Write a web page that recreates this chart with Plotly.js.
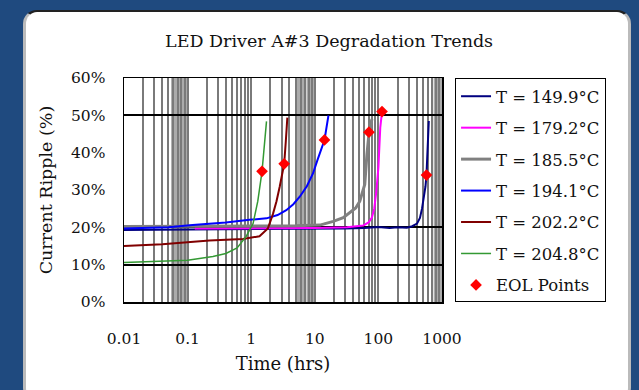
<!DOCTYPE html>
<html>
<head>
<meta charset="utf-8">
<script src="https://cdn.plot.ly/plotly-3.0.1.min.js"></script>
<style>
  html, body { margin:0; padding:0; width:639px; height:390px; overflow:hidden; background:#1f4a7f; }
  #panel { position:absolute; left:23px; top:10px; width:608px; height:392px; background:#fff;
           border-radius:14px; border-left:3px solid #bbb; border-right:3px solid #bbb; border-top:2px solid #222; box-sizing:border-box; }
  #chart { position:absolute; left:0; top:0; width:639px; height:390px; }
</style>
</head>
<body>
<div id="panel"></div>
<div id="chart"></div>
<script>
// ---- Data (time in hours, ripple in %) ----
const seriesNames = ["T = 149.9°C", "T = 179.2°C", "T = 185.5°C", "T = 194.1°C", "T = 202.2°C", "T = 204.8°C"];
const seriesColors = ["#000080", "#ff00ff", "#808080", "#0000ff", "#800000", "#339933"];
const seriesWidths = [2, 2, 3, 2, 2, 1.5];

const t149 = [0.01, 0.1, 1, 10, 30, 60, 100, 150, 200, 280, 340, 405, 450, 485, 520, 550, 570, 600, 620];
const r149 = [19.3, 19.4, 19.5, 19.5, 19.7, 19.8, 20.1, 19.8, 20.0, 19.9, 20.3, 21.0, 22.5, 25.0, 28.0, 31.0, 34.0, 42.0, 48.5];

const t179 = [0.13, 1, 10, 32, 58, 70, 79, 86, 92, 100, 107, 114];
const r179 = [19.7, 19.7, 19.8, 20.0, 20.5, 21.3, 22.6, 25.0, 29.0, 36.0, 46.7, 51.0];

const t185 = [0.01, 1, 5, 12, 19.5, 28, 35, 44, 51, 61, 66, 71, 79];
const r185 = [20.2, 20.3, 20.4, 20.6, 21.6, 22.6, 23.8, 25.2, 27.0, 31.5, 39.5, 45.0, 49.0];

const t194 = [0.01, 0.05, 0.12, 0.4, 0.94, 1.74, 2.6, 3.56, 4.6, 5.8, 7.5, 9.4, 11, 12.8, 14.2, 16.4];
const r194 = [19.7, 20.0, 20.6, 21.3, 22.0, 22.4, 23.3, 24.6, 26.2, 28.2, 31.0, 34.5, 38.0, 41.6, 43.4, 50.0];

const t202 = [0.01, 0.04, 0.22, 0.74, 1.35, 1.83, 2.2, 2.5, 2.8, 3.3, 3.5, 3.7];
const r202 = [15.0, 15.5, 16.5, 16.9, 17.6, 19.7, 23.6, 27.0, 30.8, 37.0, 43.0, 49.4];

const t204 = [0.01, 0.03, 0.1, 0.25, 0.4, 0.6, 0.83, 1.07, 1.27, 1.48, 1.6, 1.74];
const r204 = [10.6, 10.8, 11.2, 12.2, 13.0, 14.5, 17.5, 21.0, 27.0, 35.0, 42.0, 48.4];

const eolTime = [570, 114, 71, 14.2, 3.3, 1.48];
const eolRipple = [34.0, 51.0, 45.5, 43.4, 37.0, 35.0];

const xTickVals = [0.01, 0.1, 1, 10, 100, 1000];
const xTickText = ["0.01", "0.1", "1", "10", "100", "1000"];
const yTickVals = [0, 10, 20, 30, 40, 50, 60];
const yTickText = ["0%", "10%", "20%", "30%", "40%", "50%", "60%"];
const yGridVals = [10, 20, 50];
// vertical log gridlines (1..9 per decade)
const gridDecades = [0.01, 0.1, 1, 10, 100];
const gridDigits = [1, 2, 3, 4, 5, 6, 7, 8, 9];
// darker shaded bands of merged gridlines seen in the picture (start, end in hours)
const bandStart = [0.055, 4.9, 7.4, 740];
const bandEnd = [0.1, 6.9, 10, 1000];

// main x axis: ticks at every gridline, labelled only at decades
const xGridVals = [];
gridDecades.forEach(d => gridDigits.forEach(k => xGridVals.push(+(d * k).toPrecision(3))));
xGridVals.push(1000);
const xGridText = xGridVals.map(v => {
  const i = xTickVals.indexOf(v);
  return i >= 0 ? xTickText[i] : "";
});

// ---- Traces ----
const xs = [t149, t179, t185, t194, t202, t204];
const ys = [r149, r179, r185, r194, r202, r204];
const traces = [];
// invisible carrier for the overlay axis that draws the black horizontal gridlines
traces.push({ x: [0.01], y: [0], yaxis: "y2", mode: "markers", marker: { opacity: 0 }, showlegend: false, hoverinfo: "skip" });
xs.forEach((x, i) => traces.push({
  x: x, y: ys[i], type: "scatter", mode: "lines", name: seriesNames[i],
  line: { color: seriesColors[i], width: seriesWidths[i] },
  legendgroup: "g" + i
}));
traces.push({
  x: eolTime, y: eolRipple, type: "scatter", mode: "markers", name: "EOL Points",
  marker: { symbol: "diamond", color: "#ff0000", size: 9 }, legendgroup: "eol"
});

const bandShapes = bandStart.map((s, i) => ({
  type: "rect", xref: "x", yref: "paper", x0: s, x1: bandEnd[i], y0: 0, y1: 1,
  fillcolor: "#ababab", line: { width: 0 }, layer: "below"
}));

const serif = "DejaVu Serif, Liberation Serif, serif";
const layout = {
  width: 639, height: 390,
  paper_bgcolor: "rgba(0,0,0,0)", plot_bgcolor: "#ffffff",
  margin: { l: 124, r: 197, t: 78, b: 88 },
  title: { text: "LED Driver A#3 Degradation Trends", font: { family: serif, size: 17.5, color: "#111" },
           x: 0.515, xanchor: "center", y: 0.895, yanchor: "middle" },
  xaxis: {
    type: "log", range: [-2, 3], tickvals: xGridVals, ticktext: xGridText,
    ticks: "", ticklabelstandoff: 22,
    tickfont: { family: serif, size: 15.5, color: "#111" },
    showgrid: true, gridcolor: "#7a7a7a", gridwidth: 2,
    showline: true, linecolor: "#000", linewidth: 1.5, mirror: true, zeroline: false,
    title: { text: "Time (hrs)", font: { family: serif, size: 18, color: "#111" }, standoff: 10 }
  },
  yaxis: {
    range: [0, 60], tickvals: yTickVals, ticktext: yTickText, ticks: "", ticklabelstandoff: 14,
    tickfont: { family: serif, size: 15.5, color: "#111" },
    showgrid: false, zeroline: false,
    showline: true, linecolor: "#000", linewidth: 1.5, mirror: true,
    title: { text: "Current Ripple (%)", font: { family: serif, size: 17.5, color: "#111" }, standoff: 14 }
  },
  yaxis2: {
    overlaying: "y", range: [0, 60], tickvals: yGridVals, showticklabels: false, ticks: "",
    showgrid: true, gridcolor: "#000", gridwidth: 2, zeroline: false, showline: false
  },
  shapes: bandShapes,
  legend: {
    x: 1.041, xanchor: "left", y: 1, yanchor: "top",
    bordercolor: "#000", borderwidth: 1, bgcolor: "#ffffff",
    font: { family: serif, size: 16.5, color: "#111" },
    tracegroupgap: 7, itemwidth: 30, maxheight: 1
  },
  showlegend: true
};

Plotly.newPlot("chart", traces, layout, { staticPlot: true, displayModeBar: false });
</script>
</body>
</html>
